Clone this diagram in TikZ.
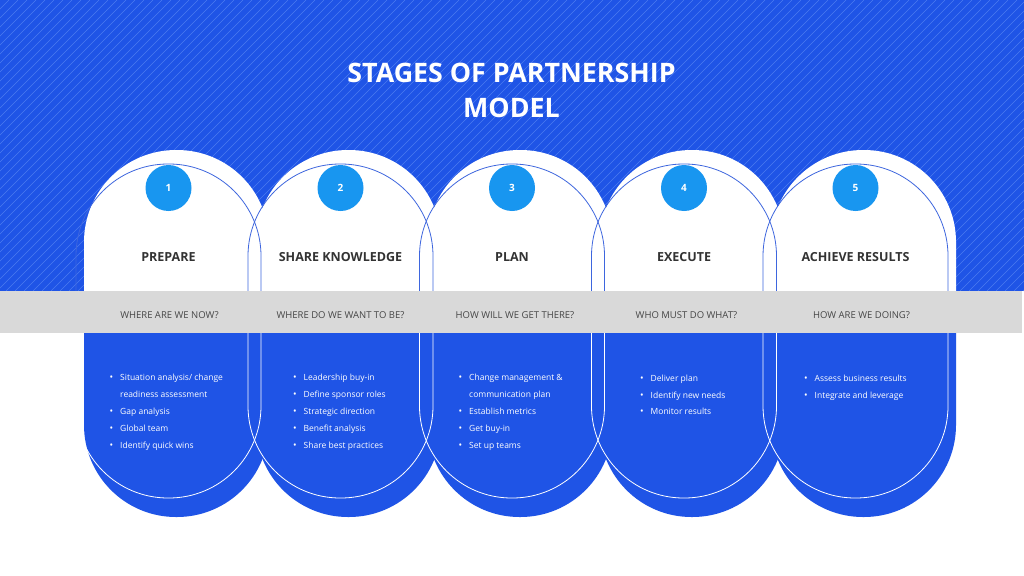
\documentclass[tikz,border=0pt]{standalone}
\usepackage{fontspec}
\setmainfont{Open Sans}
\definecolor{bgblue}{RGB}{31,84,230}
\definecolor{stripe}{RGB}{76,122,240}
\definecolor{numblue}{RGB}{24,150,240}
\definecolor{bandgray}{RGB}{217,217,217}
\definecolor{darktext}{RGB}{51,51,51}
\definecolor{asktext}{RGB}{70,70,70}
\definecolor{rimblue}{RGB}{62,102,222}
\newcommand{\bitem}[1]{\makebox[10.5pt][l]{\fontsize{9.5}{9.5}\selectfont\textbullet}#1}
\newcommand{\bindent}{\hspace*{10.5pt}}
\tikzset{
	headline/.style={text=white, align=center, font=\bfseries\fontsize{26.8}{35}\selectfont},
	numdot/.style={circle, fill=numblue, minimum size=46pt, inner sep=0pt, text=white, font=\bfseries\fontsize{10}{12}\selectfont},
	stagetitle/.style={text=darktext, font=\bfseries\fontsize{12.5}{15}\selectfont},
	askline/.style={text=asktext, font=\fontsize{9.5}{12}\selectfont},
	bullets/.style={text=white, align=left, anchor=north west, inner sep=0pt, font=\fontsize{8.5}{16.9}\selectfont}
}

\begin{document}
\begin{tikzpicture}[x=1pt, y=-1pt, every node/.style={font=\small}]
	\useasboundingbox (0,0) rectangle (1024,575);
	\fill[white] (0,0) rectangle (1024,575);
	\fill[bgblue] (0,0) rectangle (1024,291);
	\begin{scope}
		\clip (0,0) rectangle (1024,291);
		\foreach \s in {-300,-291,...,1024}
			\draw[stripe, line width=0.5pt] (\s,291) -- ({\s+291},0);
		\foreach \c in {168.5,340.5,512,684,855.5}
			\fill[white, rounded corners=92pt] ({\c-84.5},150) rectangle ({\c+100.5},517);
		\foreach \c in {168.5,340.5,512,684,855.5}
			\draw[rimblue, line width=0.8pt, rounded corners=92pt] ({\c-92.5},164) rectangle ({\c+92.5},498);
	\end{scope}
	\begin{scope}
		\clip (0,333) rectangle (1024,575);
		\foreach \c in {168.5,340.5,512,684,855.5}
			\fill[bgblue, rounded corners=92pt] ({\c-84.5},150) rectangle ({\c+100.5},517);
		\foreach \c in {168.5,340.5,512,684,855.5}
			\draw[white, line width=0.8pt, rounded corners=92pt] ({\c-92.5},164) rectangle ({\c+92.5},498);
	\end{scope}
	\fill[bandgray] (0,291) rectangle (1022,333);
	\node[headline] (head) at (511.5,90) {STAGES OF PARTNERSHIP\\MODEL};
	\foreach \c/\t/\q/\qx [count=\i] in {168.5/PREPARE/WHERE ARE WE NOW?/169.5, 340.5/SHARE KNOWLEDGE/WHERE DO WE WANT TO BE?/340.5, 512/PLAN/HOW WILL WE GET THERE?/515, 684/EXECUTE/WHO MUST DO WHAT?/686.5, 855.5/ACHIEVE RESULTS/HOW ARE WE DOING?/861.5} {
		\node[numdot] (num\i) at (\c,188) {\i};
		\node[stagetitle] (title\i) at (\c,257) {\t};
		\node[askline] (ask\i) at (\qx,315) {\q};
	}
	\node[bullets] (list1) at (109.5,374) {\bitem{Situation analysis/ change}\\\bindent readiness assessment\\\bitem{Gap analysis}\\\bitem{Global team}\\\bitem{Identify quick wins}};
	\node[bullets] (list2) at (293,374) {\bitem{Leadership buy-in}\\\bitem{Define sponsor roles}\\\bitem{Strategic direction}\\\bitem{Benefit analysis}\\\bitem{Share best practices}};
	\node[bullets] (list3) at (458.5,374) {\bitem{Change management \&}\\\bindent communication plan\\\bitem{Establish metrics}\\\bitem{Get buy-in}\\\bitem{Set up teams}};
	\node[bullets] (list4) at (640,374.5) {\bitem{Deliver plan}\\\bitem{Identify new needs}\\\bitem{Monitor results}};
	\node[bullets] (list5) at (804,374.5) {\bitem{Assess business results}\\\bitem{Integrate and leverage}};
\end{tikzpicture}
\end{document}
